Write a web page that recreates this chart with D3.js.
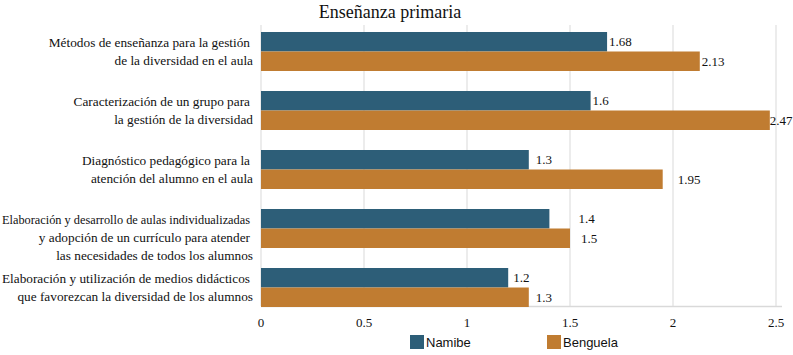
<!DOCTYPE html>
<html><head><meta charset="utf-8">
<script src="https://cdn.jsdelivr.net/npm/d3@7"></script>
<style>body{margin:0;background:#fff}svg{display:block}</style>
</head><body><svg id="c" width="793" height="355"></svg>
<script>
const title = "Enseñanza primaria";
const categories = [
  ["Métodos de enseñanza para la gestión", "de la diversidad en el aula"],
  ["Caracterización de un grupo para", "la gestión de la diversidad"],
  ["Diagnóstico pedagógico para la", "atención del alumno en el aula"],
  ["Elaboración y desarrollo de aulas individualizadas", "y adopción de un currículo para atender", "las necesidades de todos los alumnos"],
  ["Elaboración y utilización de medios didácticos", "que favorezcan la diversidad de los alumnos"]
];
const seriesNames = ["Namibe", "Benguela"];
const namibe = [1.68, 1.6, 1.3, 1.4, 1.2];
const benguela = [2.13, 2.47, 1.95, 1.5, 1.3];
const ticks = [0, 0.5, 1, 1.5, 2, 2.5];
const colors = ["#2d5e78", "#c07c31"];

const series = [namibe, benguela];
const svg = d3.select("#c");
const serif = "'Liberation Serif', 'Times New Roman', serif";
const sans = "'Liberation Sans', Arial, sans-serif";

const x = d3.scaleLinear().domain([0, 2.5]).range([261, 776]);
const y = d3.scaleBand().domain(d3.range(categories.length)).range([32, 307]).paddingInner(20/59).paddingOuter(0);
const ys = d3.scaleBand().domain([0, 1]).range([0, y.bandwidth()]);

// grid
svg.append("g").selectAll("line").data(ticks).join("line")
  .attr("x1", d => x(d)).attr("x2", d => x(d))
  .attr("y1", 25).attr("y2", 306)
  .attr("stroke", "#d9d9d9").attr("stroke-width", 1);
svg.append("line").attr("x1", 261).attr("x2", 782).attr("y1", 306.5).attr("y2", 306.5)
  .attr("stroke", "#d9d9d9").attr("stroke-width", 1.5);

// bars
const labelNudge = [[0, 0], [0, -2], [5, 13], [27, 9], [3, 5]];
series.forEach((vals, s) => {
  const g = svg.append("g");
  g.selectAll("rect").data(vals).join("rect")
    .attr("x", x(0)).attr("y", (d, i) => y(i) + ys(s))
    .attr("width", d => x(d) - x(0)).attr("height", ys.bandwidth())
    .attr("fill", colors[s]);
  g.selectAll("text").data(vals).join("text")
    .attr("x", (d, i) => x(d) + 2 + labelNudge[i][s])
    .attr("y", (d, i) => y(i) + ys(s) + ys.bandwidth() / 2)
    .attr("dy", "0.35em")
    .attr("font-family", serif).attr("font-size", 13).attr("fill", "#111")
    .text(d => d);
});

// axis labels
svg.append("g").selectAll("text").data(ticks).join("text")
  .attr("x", d => x(d)).attr("y", 322).attr("dy", "0.35em")
  .attr("text-anchor", "middle").attr("font-family", serif).attr("font-size", 13).attr("fill", "#111")
  .text(d => d);

// category labels
categories.forEach((lines, i) => {
  const t = svg.append("text").attr("font-family", serif).attr("font-size", 13.3)
    .attr("fill", "#111").attr("text-anchor", "end");
  lines.forEach((ln, j) => {
    const ts = t.append("tspan").attr("x", j < lines.length - 1 ? 250 : 253)
      .attr("y", y(i) + 10 + j * 18).attr("dy", "0.35em").text(ln);
    const w = ts.node().getComputedTextLength();
    const maxW = j < lines.length - 1 ? 248 : 251;
    if (w > maxW) ts.attr("textLength", maxW).attr("lengthAdjust", "spacingAndGlyphs");
  });
});

// title
svg.append("text").attr("x", 390).attr("y", 12).attr("dy", "0.35em")
  .attr("text-anchor", "middle").attr("font-family", serif).attr("font-size", 18).attr("fill", "#111")
  .text(title);

// legend
const legX = [410, 547];
seriesNames.forEach((n, s) => {
  svg.append("rect").attr("x", legX[s]).attr("y", 335).attr("width", 14).attr("height", 14).attr("fill", colors[s]);
  svg.append("text").attr("x", legX[s] + 16).attr("y", 342).attr("dy", "0.35em")
    .attr("font-family", sans).attr("font-size", 13).attr("fill", "#111").text(n);
});
</script></body></html>
